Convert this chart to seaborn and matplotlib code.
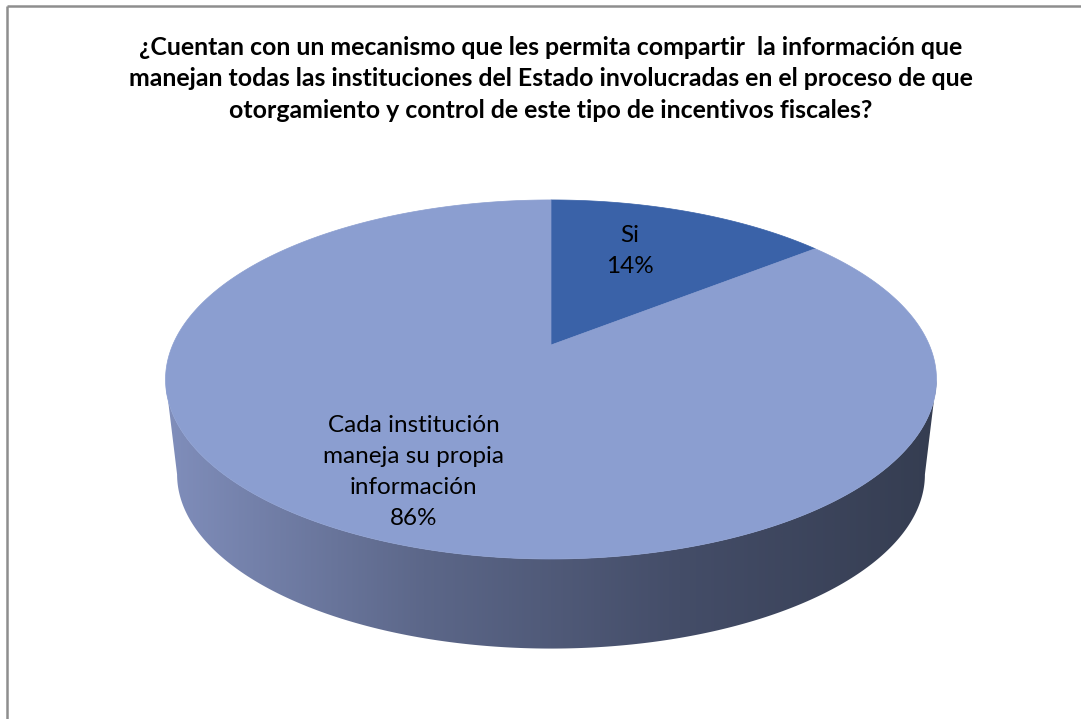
import numpy as np
import matplotlib
matplotlib.use("Agg")
import matplotlib.pyplot as plt
from matplotlib.patches import Polygon
from matplotlib.colors import LinearSegmentedColormap
import seaborn as sns

# ---- data ----
categories = ["Si", "Cada institución\nmaneja su propia\ninformación"]
values = [1, 6]
title = ("¿Cuentan con un mecanismo que les permita compartir  la información que\n"
         "manejan todas las instituciones del Estado involucradas en el proceso de que\n"
         "otorgamiento y control de este tipo de incentivos fiscales?")

# ---- style ----
sns.set_theme(style="white")
plt.rcParams["font.family"] = ["Lato", "DejaVu Sans"]
top_colors = ["#3A62A8", "#8B9ED0"]
side_stops = ["#808EBB", "#5C6789", "#444D68", "#353D51"]

W, H = 1081, 719
fig = plt.figure(figsize=(W / 100, H / 100), dpi=100)
ax = fig.add_axes([0, 0, 1, 1])
ax.set_xlim(0, W)
ax.set_ylim(H, 0)
ax.axis("off")

# perspective projection of a unit disk (screen pixel units)
CX, CY, A, B, K = 551.0, 345.0, 378.3, 172.9, 0.192
SB, DY = 0.97, 96.0


def proj(phi, r=1.0, s=1.0, dy=0.0):
    u = r * np.cos(phi)
    v = -r * np.sin(phi)
    w = 1 - K * v
    return CX + s * A * u / w, CY + dy + s * B * v / w


# side (front half) with horizontal gradient
phiL = np.pi + np.arcsin(K)
phiR = 2 * np.pi - np.arcsin(K)
ph = np.linspace(phiL, phiR, 300)
tx, ty = proj(ph)
bx, by = proj(ph[::-1], s=SB, dy=DY)
side = np.column_stack([np.concatenate([tx, bx]), np.concatenate([ty, by])])
side_patch = Polygon(side, closed=True, facecolor="none", edgecolor="none")
ax.add_patch(side_patch)
cmap = LinearSegmentedColormap.from_list("side", side_stops)
grad = np.linspace(0, 1, 512).reshape(1, -1)
x0, x1 = side[:, 0].min(), side[:, 0].max()
y0, y1 = side[:, 1].min(), side[:, 1].max()
im = ax.imshow(grad, cmap=cmap, aspect="auto", extent=[x0, x1, y1, y0],
               interpolation="bilinear", zorder=1)
im.set_clip_path(side_patch)

# top face slices
total = float(sum(values))
start = np.pi / 2
label_r = [0.6, 0.73]
label_shift = [(-10, -9), (0, -3)]
for i, (cat, val) in enumerate(zip(categories, values)):
    span = 2 * np.pi * val / total
    angs = np.linspace(start, start - span, 400)
    px, py = proj(angs)
    pts = np.column_stack([np.concatenate([[CX], px]), np.concatenate([[CY], py])])
    ax.add_patch(Polygon(pts, closed=True, facecolor=top_colors[i],
                         edgecolor=top_colors[i], linewidth=0.5, zorder=2))
    mid = start - span / 2
    lx, ly = proj(mid, r=label_r[i])
    pct = f"{round(100 * val / total):.0f}%"
    ax.text(lx + label_shift[i][0], ly + label_shift[i][1], f"{cat}\n{pct}",
            ha="center", va="center", ma="center",
            fontsize=17.5, linespacing=1.58, color="black", zorder=3)
    start -= span

# title
ax.text(551, 79, title, ha="center", va="center", ma="center", fontsize=17.9,
        fontweight="bold", linespacing=1.43, color="black")

# chart frame (top and left edges visible)
ax.plot([7, W], [6, 6], color="#8E8E8E", lw=1.8, solid_capstyle="butt")
ax.plot([7, 7], [6, H], color="#8E8E8E", lw=1.8, solid_capstyle="butt")

fig.savefig("out.png", dpi=100)
